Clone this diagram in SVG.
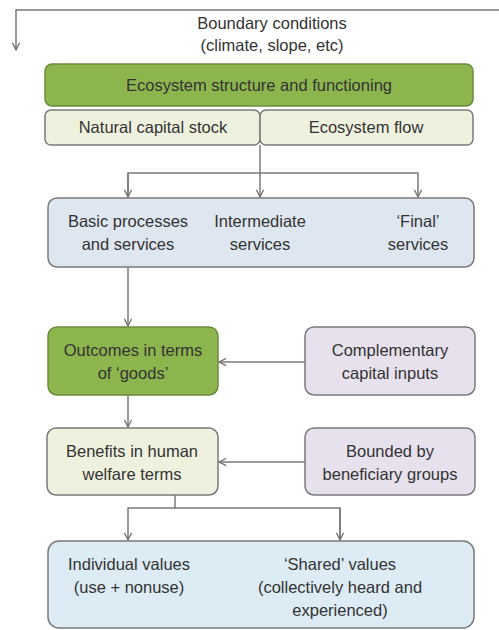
<svg xmlns="http://www.w3.org/2000/svg" width="499" height="630" viewBox="0 0 499 630">
<defs>
<marker id="arr" viewBox="0 0 10 10" refX="9" refY="5" markerWidth="9" markerHeight="9" orient="auto" markerUnits="userSpaceOnUse">
<path d="M1,1 L9,5 L1,9" fill="none" stroke="#6f6f6f" stroke-width="1.4"/>
</marker>
<style>
text{font-family:"Liberation Sans",Arial,sans-serif;font-size:16.5px;fill:#333;text-anchor:middle}
.box{stroke:#7a7a7a;stroke-width:1.5}
.green{fill:#8db54e;stroke:#6b8a3c}
.beige{fill:#eff1df}
.blue{fill:#dee6f0}
.lav{fill:#e7e1ee}
.lblue{fill:#dcebf4}
.c{fill:none;stroke:#7a7a7a;stroke-width:1.5}
</style>
</defs>
<rect width="499" height="630" fill="#fff"/>
<g id="connectors">
<path class="c" d="M499,10 H16 V50" marker-end="url(#arr)"/>
<path class="c" d="M260,145 V197" marker-end="url(#arr)"/>
<path class="c" d="M128,197 V173 H418 V197" marker-end="url(#arr)"/>
<path class="c" d="M128,173 V197" marker-end="url(#arr)"/>
<path class="c" d="M128,267 V326" marker-end="url(#arr)"/>
<path class="c" d="M305,362 H219" marker-end="url(#arr)"/>
<path class="c" d="M128,395 V427" marker-end="url(#arr)"/>
<path class="c" d="M305,462 H219" marker-end="url(#arr)"/>
<path class="c" d="M175,495 V508"/>
<path class="c" d="M340,540 V508 H128 V540" marker-end="url(#arr)"/>
<path class="c" d="M340,508 V540" marker-end="url(#arr)"/>
</g>
<g id="boundary">
<text x="272" y="29">Boundary conditions</text>
<text x="272" y="51">(climate, slope, etc)</text>
</g>
<g id="ecosystem">
<rect class="box green" x="45" y="64" width="428" height="42" rx="7"/>
<text x="259" y="91">Ecosystem structure and functioning</text>
</g>
<g id="natural-capital">
<rect class="box beige" x="45" y="110" width="215" height="35" rx="6"/>
<text x="153" y="133">Natural capital stock</text>
</g>
<g id="ecosystem-flow">
<rect class="box beige" x="260" y="110" width="213" height="35" rx="6"/>
<text x="366" y="133">Ecosystem flow</text>
</g>
<g id="services">
<rect class="box blue" x="48" y="198" width="426" height="69" rx="9"/>
<text x="128" y="227">Basic processes</text>
<text x="128" y="250">and services</text>
<text x="260" y="227">Intermediate</text>
<text x="260" y="250">services</text>
<text x="418" y="227">‘Final’</text>
<text x="418" y="250">services</text>
</g>
<g id="outcomes">
<rect class="box green" x="48" y="327" width="170" height="68" rx="9"/>
<text x="133" y="356">Outcomes in terms</text>
<text x="133" y="379">of ‘goods’</text>
</g>
<g id="complementary">
<rect class="box lav" x="305" y="327" width="170" height="68" rx="9"/>
<text x="390" y="356">Complementary</text>
<text x="390" y="379">capital inputs</text>
</g>
<g id="benefits">
<rect class="box beige" x="47" y="428" width="171" height="67" rx="9"/>
<text x="132" y="457">Benefits in human</text>
<text x="132" y="480">welfare terms</text>
</g>
<g id="bounded">
<rect class="box lav" x="305" y="428" width="170" height="67" rx="9"/>
<text x="390" y="457">Bounded by</text>
<text x="390" y="480">beneficiary groups</text>
</g>
<g id="values">
<rect class="box lblue" x="48" y="541" width="426" height="87" rx="11"/>
<text x="129" y="570">Individual values</text>
<text x="129" y="593">(use + nonuse)</text>
<text x="340" y="570">‘Shared’ values</text>
<text x="340" y="593">(collectively heard and</text>
<text x="340" y="616">experienced)</text>
</g>
</svg>
